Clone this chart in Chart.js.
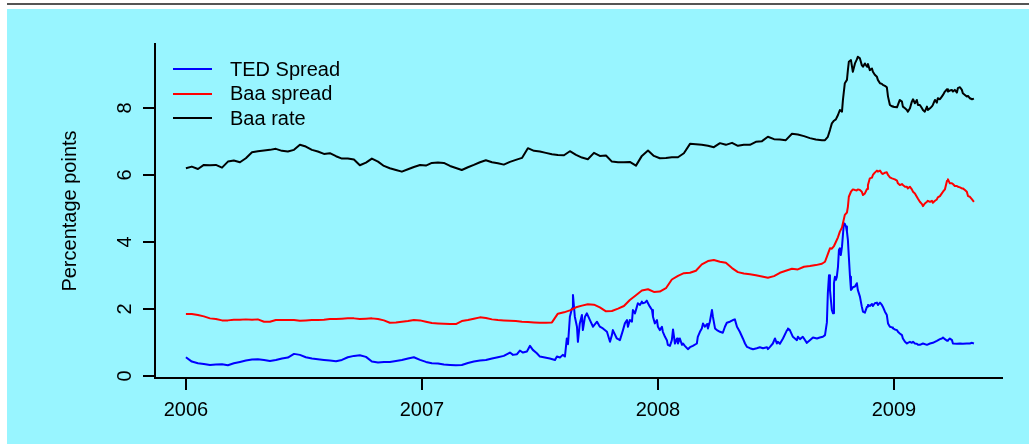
<!DOCTYPE html>
<html><head><meta charset="utf-8">
<script src="https://cdn.jsdelivr.net/npm/chart.js@4.4.1/dist/chart.umd.min.js"></script>
<style>
html,body{margin:0;padding:0;background:#fff;width:1029px;height:444px;overflow:hidden;font-family:'Liberation Sans',Arial,Helvetica,sans-serif;}
#topline{position:absolute;left:7px;top:3px;width:1022px;height:2px;background:#555;}
#panel{position:absolute;left:7px;top:9px;right:0;bottom:0;background:#98F5FF;}
#c{position:absolute;left:0;top:0;width:1029px;height:444px;}
#legend{position:absolute;left:173px;top:57px;font-size:20px;color:#000;}
.row{display:flex;align-items:center;height:24.5px;white-space:nowrap;}
.sw{width:39px;height:2px;margin-right:18px;}
</style></head><body>
<div id="topline"></div><div id="panel"></div>
<canvas id="c" width="1029" height="444"></canvas>
<div id="legend"></div>
<script>
// ---- data (decimal years, percentage points) ----
const seriesNames = ['TED Spread', 'Baa spread', 'Baa rate'];
const yearTicks = [2006, 2007, 2008, 2009];
const valueTicks = [0, 2, 4, 6, 8];

const rateDates = [
2006.000,2006.025,2006.051,2006.076,2006.102,2006.127,2006.153,2006.178,2006.203,2006.229,
2006.254,2006.280,2006.305,2006.331,2006.356,2006.381,2006.407,2006.432,2006.458,2006.483,
2006.508,2006.534,2006.559,2006.585,2006.610,2006.636,2006.661,2006.686,2006.712,2006.737,
2006.763,2006.788,2006.814,2006.839,2006.864,2006.890,2006.915,2006.941,2006.966,2006.992,
2007.017,2007.042,2007.068,2007.093,2007.119,2007.144,2007.169,2007.195,2007.220,2007.246,
2007.271,2007.297,2007.322,2007.347,2007.373,2007.398,2007.424,2007.449,2007.475,2007.500,
2007.525,2007.551,2007.576,2007.602,2007.627,2007.653,2007.678,2007.703,2007.729,2007.754,
2007.780,2007.805,2007.831,2007.856,2007.881,2007.907,2007.932,2007.958,2007.983,2008.008,
2008.034,2008.059,2008.085,2008.110,2008.136,2008.161,2008.186,2008.212,2008.237,2008.263,
2008.288,2008.314,2008.339,2008.364,2008.390,2008.415,2008.441,2008.466,2008.492,2008.517,
2008.542,2008.568,2008.593,2008.619,2008.644,2008.669,2008.695,
2008.708,2008.720,2008.729,2008.737,2008.746,2008.754,2008.763,2008.771,2008.780,2008.784,
2008.792,2008.801,2008.805,2008.809,2008.818,2008.826,2008.835,2008.843,2008.847,2008.856,
2008.864,2008.869,2008.877,2008.886,2008.890,2008.898,2008.907,2008.911,2008.919,2008.928,
2008.932,2008.941,2008.949,2008.953,2008.962,2008.970,2008.975,2008.983,2008.992,2008.996,
2009.004,2009.013,2009.017,2009.025,2009.034,2009.038,2009.047,2009.055,2009.059,2009.068,
2009.076,2009.081,2009.089,2009.097,2009.102,2009.110,2009.119,2009.123,2009.131,2009.140,
2009.144,2009.153,2009.161,2009.165,2009.174,2009.182,2009.186,2009.195,2009.203,2009.208,
2009.216,2009.225,2009.229,2009.237,2009.246,2009.250,2009.258,2009.267,2009.271,2009.280,
2009.288,2009.292,2009.301,2009.309,2009.314,2009.322,2009.331,2009.339
];

const baaRate = [
6.20,6.25,6.18,6.30,6.29,6.30,6.22,6.40,6.43,6.38,
6.50,6.68,6.71,6.73,6.75,6.78,6.72,6.70,6.75,6.90,
6.85,6.75,6.70,6.63,6.65,6.56,6.49,6.49,6.46,6.29,
6.37,6.49,6.40,6.27,6.20,6.15,6.10,6.17,6.24,6.30,
6.28,6.36,6.37,6.36,6.27,6.21,6.15,6.23,6.30,6.38,
6.44,6.38,6.35,6.31,6.39,6.45,6.51,6.80,6.72,6.70,
6.66,6.62,6.60,6.59,6.71,6.60,6.52,6.47,6.66,6.57,
6.58,6.40,6.38,6.38,6.39,6.28,6.57,6.73,6.57,6.50,
6.51,6.53,6.53,6.65,6.93,6.92,6.90,6.87,6.83,6.95,
6.90,6.96,6.87,6.90,6.90,6.99,7.01,7.14,7.07,7.06,
7.04,7.23,7.21,7.16,7.10,7.06,7.04,
7.04,7.14,7.34,7.54,7.62,7.66,7.79,7.94,7.89,8.24,
8.74,8.84,9.13,9.38,9.43,9.08,9.33,9.45,9.53,9.48,
9.28,9.23,9.33,9.23,9.31,9.13,9.18,9.08,8.99,8.93,
8.84,8.74,8.72,8.69,8.66,8.62,8.34,8.09,8.05,8.04,
8.03,8.02,8.09,8.24,8.19,8.04,7.99,7.94,7.89,7.99,
8.19,8.26,8.14,8.24,8.09,8.09,7.99,7.94,7.89,8.04,
7.94,7.99,8.05,8.09,8.24,8.16,8.29,8.26,8.34,8.39,
8.49,8.56,8.49,8.52,8.54,8.49,8.54,8.46,8.59,8.62,
8.54,8.44,8.39,8.34,8.36,8.29,8.26,8.28
];

const baaSpread = [
1.85,1.85,1.82,1.78,1.72,1.70,1.66,1.66,1.68,1.68,
1.69,1.68,1.69,1.62,1.62,1.67,1.67,1.67,1.67,1.65,
1.66,1.67,1.67,1.68,1.70,1.70,1.71,1.72,1.72,1.70,
1.71,1.72,1.70,1.66,1.59,1.60,1.62,1.64,1.67,1.66,
1.62,1.58,1.57,1.56,1.55,1.55,1.64,1.67,1.71,1.75,
1.73,1.69,1.67,1.66,1.65,1.64,1.62,1.61,1.60,1.59,
1.59,1.60,1.86,1.90,1.96,2.05,2.10,2.14,2.13,2.05,
1.93,1.94,2.01,2.09,2.27,2.41,2.55,2.59,2.51,2.52,
2.62,2.88,2.99,3.07,3.08,3.14,3.33,3.43,3.46,3.41,
3.38,3.22,3.10,3.06,3.04,3.01,2.97,2.93,2.98,3.08,
3.14,3.20,3.18,3.26,3.28,3.31,3.35,
3.41,3.64,3.81,3.80,3.88,4.00,4.14,4.31,4.43,4.56,
4.81,4.88,5.05,5.35,5.50,5.57,5.55,5.54,5.57,5.55,
5.50,5.40,5.45,5.58,5.70,5.90,5.92,6.00,6.07,6.13,
6.10,6.13,6.05,6.03,6.07,6.08,6.00,5.93,5.90,5.90,
5.87,5.83,5.75,5.70,5.73,5.70,5.65,5.65,5.60,5.65,
5.57,5.50,5.45,5.35,5.29,5.20,5.13,5.07,5.15,5.20,
5.23,5.20,5.23,5.17,5.23,5.27,5.33,5.37,5.45,5.50,
5.57,5.83,5.87,5.75,5.75,5.73,5.67,5.67,5.65,5.63,
5.60,5.60,5.55,5.50,5.37,5.35,5.27,5.20
];

const tedDates = [
2006.000,2006.025,2006.051,2006.076,2006.102,2006.127,2006.153,2006.178,2006.203,2006.229,
2006.254,2006.280,2006.305,2006.331,2006.356,2006.381,2006.407,2006.432,2006.458,2006.483,
2006.508,2006.534,2006.559,2006.585,2006.610,2006.636,2006.661,2006.686,2006.712,2006.737,
2006.763,2006.788,2006.814,2006.839,2006.864,2006.890,2006.915,2006.941,2006.966,2006.992,
2007.017,2007.042,2007.068,2007.093,2007.119,2007.144,2007.169,2007.195,2007.220,2007.246,
2007.271,2007.297,2007.322,2007.347,
2007.373,2007.386,2007.403,2007.415,2007.428,2007.445,2007.458,2007.470,2007.487,2007.500,
2007.521,2007.542,2007.564,2007.572,2007.585,2007.597,2007.606,2007.614,2007.619,2007.627,
2007.636,2007.640,2007.648,2007.657,2007.661,2007.669,2007.678,2007.682,2007.691,2007.699,
2007.712,2007.725,2007.742,2007.754,2007.767,2007.784,2007.797,2007.805,2007.809,2007.826,
2007.839,2007.852,2007.860,2007.869,2007.873,2007.881,2007.890,2007.894,2007.903,2007.911,
2007.915,2007.924,2007.932,2007.936,2007.945,2007.953,2007.958,2007.966,2007.975,2007.979,
2007.987,2007.996,2008.000,2008.008,2008.017,2008.021,2008.030,2008.038,2008.042,2008.051,
2008.059,2008.064,2008.072,2008.081,2008.085,2008.093,2008.102,2008.106,2008.114,2008.123,
2008.127,2008.136,2008.148,2008.165,2008.169,2008.178,2008.186,2008.191,2008.199,2008.208,
2008.212,2008.220,2008.229,2008.233,2008.242,2008.250,2008.263,2008.275,2008.284,2008.292,
2008.305,2008.318,2008.326,2008.335,2008.347,2008.360,2008.369,2008.377,2008.390,2008.403,
2008.419,2008.432,2008.445,2008.462,2008.466,2008.475,2008.487,2008.496,2008.504,2008.508,
2008.517,2008.530,2008.547,2008.551,2008.559,2008.572,2008.589,2008.593,2008.602,2008.614,
2008.631,2008.644,2008.657,2008.674,2008.686,2008.699,2008.708,2008.716,2008.720,2008.725,
2008.729,2008.737,2008.742,2008.746,2008.750,2008.754,2008.758,2008.763,2008.767,2008.771,
2008.775,2008.780,2008.784,2008.788,2008.792,2008.797,2008.801,2008.805,2008.809,2008.814,
2008.818,2008.822,2008.826,2008.835,2008.843,2008.847,2008.856,2008.864,2008.869,2008.877,
2008.886,2008.890,2008.898,2008.907,2008.911,2008.919,2008.928,2008.932,2008.941,2008.949,
2008.953,2008.962,2008.970,2008.975,2008.983,2008.992,2008.996,2009.004,2009.013,2009.017,
2009.025,2009.034,2009.038,2009.047,2009.055,2009.059,2009.068,2009.076,2009.081,2009.089,
2009.097,2009.102,2009.110,2009.123,2009.140,2009.153,2009.165,2009.182,2009.195,2009.203,
2009.208,2009.216,2009.225,2009.229,2009.237,2009.246,2009.250,2009.267,2009.280,2009.292,
2009.309,2009.322,2009.331,2009.339
];

const tedSpread = [
0.56,0.43,0.38,0.36,0.33,0.34,0.35,0.32,0.38,0.42,
0.46,0.49,0.50,0.48,0.45,0.48,0.52,0.55,0.66,0.63,
0.56,0.52,0.50,0.48,0.46,0.44,0.48,0.56,0.60,0.62,
0.57,0.43,0.40,0.42,0.42,0.45,0.48,0.52,0.56,0.48,
0.42,0.38,0.37,0.34,0.33,0.32,0.33,0.39,0.43,0.46,
0.48,0.52,0.56,0.60,
0.70,0.63,0.65,0.76,0.70,0.73,0.90,0.78,0.68,0.58,
0.55,0.52,0.48,0.58,0.55,0.63,0.58,1.12,0.95,1.77,
2.02,2.42,1.77,1.47,1.02,1.57,1.82,1.37,1.77,1.87,
1.67,1.47,1.62,1.47,1.42,1.32,1.02,1.22,1.37,1.12,
1.07,1.37,1.57,1.67,1.47,1.67,1.62,1.97,1.87,2.07,
2.17,2.12,2.22,2.17,2.19,2.25,2.17,2.07,1.97,1.77,
1.57,1.67,1.47,1.37,1.47,1.32,1.17,1.07,0.93,0.90,
1.07,1.39,0.97,1.12,0.97,1.12,0.93,0.97,0.90,0.83,
0.80,0.86,0.90,0.97,1.17,1.32,1.42,1.57,1.47,1.55,
1.42,1.62,1.97,1.77,1.42,1.37,1.32,1.29,1.47,1.59,
1.62,1.67,1.69,1.47,1.32,1.12,0.97,0.87,0.83,0.80,
0.83,0.86,0.83,0.86,0.80,0.87,0.97,1.12,0.97,1.02,
0.96,1.12,1.37,1.42,1.37,1.17,1.07,1.17,1.10,1.17,
0.99,1.07,1.15,1.12,1.15,1.17,1.22,1.60,2.47,3.01,
2.57,1.97,1.87,2.77,2.96,2.87,2.96,3.26,3.76,3.81,
3.61,3.86,4.21,4.56,4.54,4.46,4.31,4.06,3.56,2.96,
2.57,2.60,2.65,2.67,2.77,2.57,2.37,2.07,1.92,1.89,
2.07,2.12,2.09,2.15,2.09,2.17,2.19,2.12,2.19,2.12,
2.07,1.92,1.82,1.57,1.47,1.45,1.42,1.39,1.37,1.32,
1.27,1.22,1.12,1.02,0.97,0.99,1.02,0.99,1.02,0.97,
0.96,0.93,0.93,0.97,0.93,0.97,0.99,1.05,1.10,1.12,
1.15,1.10,1.05,1.07,1.12,1.07,0.97,0.96,0.97,0.96,
0.97,0.97,0.99,0.97
];

const seriesColors = ['#0000FF', '#FF0000', '#000000'];

// ---- chart ----
const FONT = "'Liberation Sans', Arial, Helvetica, sans-serif";
Chart.defaults.font.family = FONT;
Chart.defaults.font.size = 20;
Chart.defaults.color = '#000';

const toXY = (xs, ys) => xs.map((x, i) => ({x: x, y: ys[i]}));

const datasets = [
  {label: seriesNames[0], data: toXY(tedDates, tedSpread), borderColor: seriesColors[0], order: 3},
  {label: seriesNames[1], data: toXY(rateDates, baaSpread), borderColor: seriesColors[1], order: 2},
  {label: seriesNames[2], data: toXY(rateDates, baaRate), borderColor: seriesColors[2], order: 1}
].map(d => Object.assign(d, {borderWidth: 2, pointRadius: 0, tension: 0, fill: false, borderJoinStyle: 'round'}));

const chart = new Chart(document.getElementById('c'), {
  type: 'line',
  data: {datasets: datasets},
  options: {
    responsive: false,
    animation: false,
    devicePixelRatio: 1,
    layout: {padding: {top: 44, right: 27, bottom: 0, left: 0}},
    plugins: {legend: {display: false}, tooltip: {enabled: false}},
    scales: {
      x: {
        type: 'linear',
        min: 2005.869,
        max: 2009.458,
        afterBuildTicks: s => { s.ticks = yearTicks.map(v => ({value: v})); },
        afterFit: s => { s.height = 66; },
        ticks: {callback: v => String(v), padding: 8, maxRotation: 0, autoSkip: false, color: '#000', font: {size: 20}},
        grid: {drawOnChartArea: false, drawTicks: true, tickLength: 12, color: '#000', lineWidth: 2},
        border: {display: true, color: '#000', width: 2}
      },
      y: {
        type: 'linear',
        min: -0.06,
        max: 9.91,
        afterBuildTicks: s => { s.ticks = valueTicks.map(v => ({value: v})); },
        afterFit: s => { s.width = 155; },
        ticks: {callback: v => String(v), padding: 12, minRotation: 90, maxRotation: 90, crossAlign: 'center', color: '#000', font: {size: 20}},
        grid: {drawOnChartArea: false, drawTicks: true, tickLength: 12, color: '#000', lineWidth: 2},
        border: {display: true, color: '#000', width: 2},
        title: {display: true, text: 'Percentage points', color: '#000', font: {size: 20}, padding: {top: 58, bottom: 0}}
      }
    }
  }
});

// ---- legend (HTML, built from the chart's datasets) ----
const legendEl = document.getElementById('legend');
chart.data.datasets.forEach(ds => {
  const row = document.createElement('div');
  row.className = 'row';
  const sw = document.createElement('div');
  sw.className = 'sw';
  sw.style.background = ds.borderColor;
  const label = document.createElement('span');
  label.textContent = ds.label;
  row.appendChild(sw);
  row.appendChild(label);
  legendEl.appendChild(row);
});
</script>
</body></html>
